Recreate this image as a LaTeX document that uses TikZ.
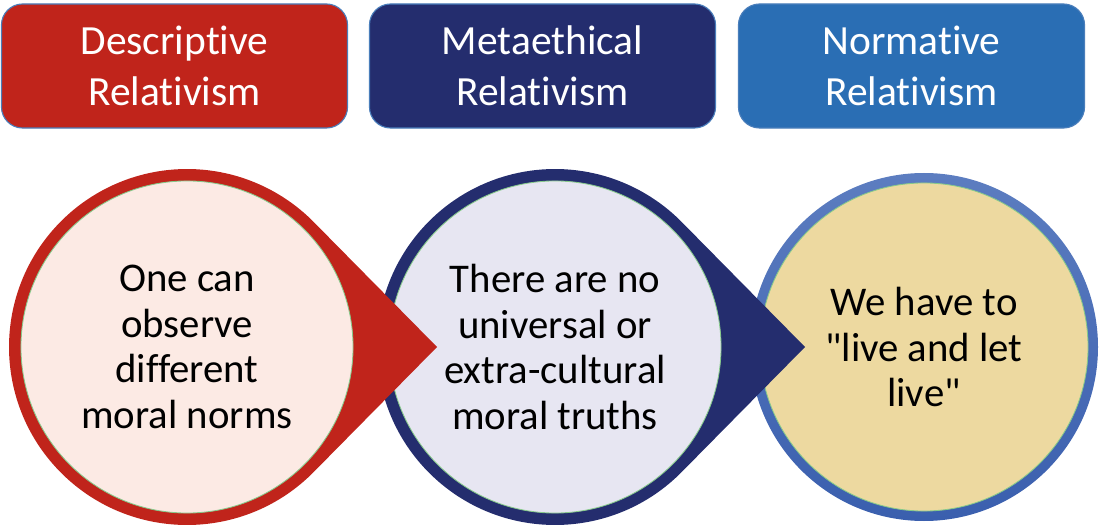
\documentclass[tikz,border=0pt]{standalone}
\usepackage{fontspec}
\setmainfont{Carlito}[Ligatures={TeXOff},RawFeature={-liga;-clig;-calt}]
\usetikzlibrary{calc,positioning}
\definecolor{brick}{HTML}{C0241B}
\definecolor{navy}{HTML}{242D6E}
\definecolor{steel}{HTML}{2A6EB4}
\definecolor{edge}{HTML}{4A7EBB}
\definecolor{blush}{HTML}{FCEAE4}
\definecolor{lilac}{HTML}{E7E6F2}
\definecolor{sand}{HTML}{EDD9A0}
\definecolor{ringtop}{HTML}{5C7DC0}
\definecolor{ringbot}{HTML}{3A5FAE}
\definecolor{rim}{HTML}{86C98A}
\tikzset{head/.style={draw=edge,line width=.8pt,rounded corners=15pt,minimum width=8.65cm,minimum height=3.1cm,align=center,text=white,font=\fontsize{29.5}{36.5}\selectfont},
bubble/.style={circle,draw=rim,line width=.6pt,minimum size=8.3cm,inner sep=0pt,align=center,font=\fontsize{29}{32.5}\selectfont}}
\begin{document}
\begin{tikzpicture}[x=0.025cm,y=-0.025cm]
\useasboundingbox (0,0) rectangle (1100,525);
% headings
\node[head,fill=brick] (hdesc) at (174.5,66) {Descriptive\\Relativism};
\node[head,fill=navy] (hmeta) at (542.5,66) {Metaethical\\Relativism};
\node[head,fill=steel] (hnorm) at (911.5,66) {Normative\\Relativism};
% third circle, no pointer
\coordinate (o3) at (924,347);
\shade[top color=ringtop,bottom color=ringbot] (o3) circle (174);
\node[bubble,fill=sand,minimum size=8.2cm] (cnorm) at (o3) {We have to\\"live and let\\live"};
% second circle with pointer
\coordinate (o2) at (555,347);
\fill[navy] ($(o2)+(250,0)$) -- ($(o2)+(44.6:178)$) arc[start angle=44.6,end angle=315.4,radius=178] -- cycle;
\node[bubble,fill=lilac] (cmeta) at (o2) {There are no\\universal or\\extra-cultural\\moral truths};
% first circle with pointer
\coordinate (o1) at (187,347);
\fill[brick] ($(o1)+(250,0)$) -- ($(o1)+(44.6:178)$) arc[start angle=44.6,end angle=315.4,radius=178] -- cycle;
\node[bubble,fill=blush] (cdesc) at (o1) {One can\\observe\\different\\moral norms};
\end{tikzpicture}
\end{document}
